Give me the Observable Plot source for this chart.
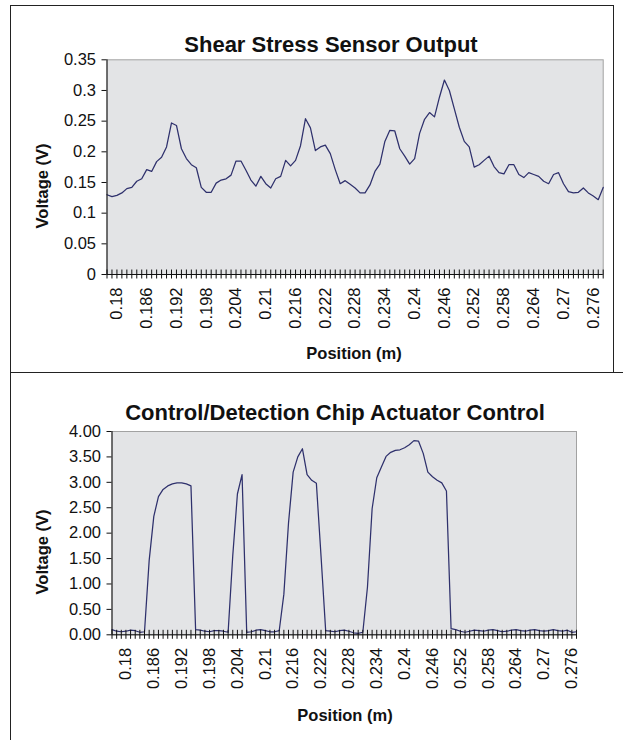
<!DOCTYPE html>
<html><head><meta charset="utf-8">
<script src="https://cdn.jsdelivr.net/npm/d3@7"></script>
<script src="https://cdn.jsdelivr.net/npm/@observablehq/plot@0.6"></script>
<style>
html,body{margin:0;padding:0;background:#fff;}
#page{position:relative;width:623px;height:740px;overflow:hidden;font-family:"Liberation Sans",Arial,sans-serif;}
.chart{position:absolute;left:0;}
.box{position:absolute;box-sizing:border-box;border:0 solid #222;pointer-events:none;}
</style></head><body><div id="page"></div>
<script>
// ---------- data ----------
const shearTitle = "Shear Stress Sensor Output";
const actuatorTitle = "Control/Detection Chip Actuator Control";
const xTitle = "Position (m)";
const yTitle = "Voltage (V)";

const shearPositions = [0.178,0.179,0.18,0.181,0.182,0.183,0.184,0.185,0.186,0.187,0.188,0.189,0.19,0.191,0.192,0.193,0.194,0.195,0.196,0.197,0.198,0.199,0.2,0.201,0.202,0.203,0.204,0.205,0.206,0.207,0.208,0.209,0.21,0.211,0.212,0.213,0.214,0.215,0.216,0.217,0.218,0.219,0.22,0.221,0.222,0.223,0.224,0.225,0.226,0.227,0.228,0.229,0.23,0.231,0.232,0.233,0.234,0.235,0.236,0.237,0.238,0.239,0.24,0.241,0.242,0.243,0.244,0.245,0.246,0.247,0.248,0.249,0.25,0.251,0.252,0.253,0.254,0.255,0.256,0.257,0.258,0.259,0.26,0.261,0.262,0.263,0.264,0.265,0.266,0.267,0.268,0.269,0.27,0.271,0.272,0.273,0.274,0.275,0.276,0.277,0.278];
const shearVoltage = [0.130,0.127,0.129,0.133,0.140,0.142,0.152,0.156,0.171,0.168,
  0.184,0.191,0.208,0.247,0.243,0.205,0.189,0.179,0.174,0.142,
  0.134,0.134,0.149,0.154,0.156,0.162,0.185,0.185,0.170,0.154,
  0.144,0.160,0.148,0.141,0.156,0.160,0.186,0.177,0.186,0.210,
  0.254,0.239,0.202,0.208,0.211,0.197,0.171,0.148,0.153,0.147,
  0.141,0.133,0.133,0.146,0.168,0.180,0.217,0.235,0.234,0.205,
  0.193,0.180,0.189,0.230,0.253,0.264,0.257,0.289,0.317,0.300,
  0.270,0.240,0.217,0.208,0.175,0.179,0.186,0.193,0.176,0.166,
  0.164,0.179,0.179,0.163,0.158,0.166,0.163,0.160,0.152,0.148,
  0.163,0.166,0.148,0.135,0.133,0.134,0.141,0.133,0.128,0.122,
  0.142];

const actuatorPositions = [0.177,0.178,0.179,0.18,0.181,0.182,0.183,0.184,0.185,0.186,0.187,0.188,0.189,0.19,0.191,0.192,0.193,0.194,0.195,0.196,0.197,0.198,0.199,0.2,0.201,0.202,0.203,0.204,0.205,0.206,0.207,0.208,0.209,0.21,0.211,0.212,0.213,0.214,0.215,0.216,0.217,0.218,0.219,0.22,0.221,0.222,0.223,0.224,0.225,0.226,0.227,0.228,0.229,0.23,0.231,0.232,0.233,0.234,0.235,0.236,0.237,0.238,0.239,0.24,0.241,0.242,0.243,0.244,0.245,0.246,0.247,0.248,0.249,0.25,0.251,0.252,0.253,0.254,0.255,0.256,0.257,0.258,0.259,0.26,0.261,0.262,0.263,0.264,0.265,0.266,0.267,0.268,0.269,0.27,0.271,0.272,0.273,0.274,0.275,0.276,0.277];
const actuatorVoltage = [0.10,0.07,0.06,0.07,0.09,0.08,0.05,0.06,
  1.46,2.33,2.72,2.86,2.93,2.97,2.99,2.99,2.97,2.93,
  0.10,0.09,0.07,0.06,0.08,0.08,0.07,0.05,
  1.56,2.77,3.15,
  0.05,0.06,0.09,0.10,0.08,0.06,0.06,0.08,
  0.80,2.20,3.20,3.50,3.66,3.15,3.04,2.98,1.55,
  0.08,0.07,0.06,0.08,0.09,0.07,0.04,0.03,0.05,
  0.94,2.48,3.09,3.30,3.51,3.59,3.63,3.64,3.68,3.74,3.82,3.81,3.57,3.20,3.11,3.04,2.99,2.83,
  0.12,0.10,0.07,0.05,0.07,0.09,0.08,0.07,0.09,0.10,0.08,0.06,0.07,0.09,0.10,0.08,0.07,0.09,0.10,0.08,0.07,0.08,0.10,0.08,0.07,0.09,0.05,0.06];

const xTickLabels = [0.18,0.186,0.192,0.198,0.204,0.21,0.216,0.222,0.228,0.234,0.24,0.246,0.252,0.258,0.264,0.27,0.276];
const shearYTicks = [0,0.05,0.1,0.15,0.2,0.25,0.3,0.35];
const actuatorYTicks = [0,0.5,1,1.5,2,2.5,3,3.5,4];

// ---------- drawing ----------
const FONT = "'Liberation Sans', Arial, sans-serif";
const LINE = "#2e306c";
const page = document.getElementById("page");

function chart(cfg) {
  const data = cfg.positions.map((p, i) => ({p, v: cfg.values[i]}));
  const svg = Plot.plot({
    width: 623, height: cfg.height,
    marginLeft: cfg.ml, marginRight: cfg.mr, marginTop: cfg.mt, marginBottom: cfg.mb,
    style: {fontFamily: FONT, fontSize: "16px", color: "#111", background: "transparent"},
    x: {domain: [cfg.positions[0], cfg.positions[cfg.positions.length - 1]], axis: null},
    y: {domain: cfg.yDomain, axis: null},
    marks: [
      Plot.frame({fill: "#e3e4e6", stroke: "#a2a2a2"}),
      Plot.line(data, {x: "p", y: "v", stroke: LINE, strokeWidth: 1.25}),
      Plot.ruleY([0], {stroke: "#111"}),
      Plot.ruleX([cfg.positions[0]], {stroke: "#111"}),
      Plot.ruleX(cfg.positions, {x: d => d, y1: 0, y2: 0, insetTop: 4.5, insetBottom: 4.5, stroke: "#111"}),
      Plot.axisY(cfg.yTicks, {tickSize: 5, tickPadding: 6, tickFormat: cfg.yFormat, fontSize: 16.5, label: null}),
      Plot.axisX(xTickLabels, {tickSize: 0, tickPadding: 13, tickRotate: -90, tickFormat: d => String(d), fontSize: 16.5, label: null})
    ]
  });
  const s = d3.select(svg);
  s.append("text").attr("x", cfg.titleX).attr("y", cfg.titleY).attr("text-anchor", "middle")
    .attr("font-size", 22).attr("font-weight", "bold").attr("fill", "#111").text(cfg.title);
  s.append("text").attr("transform", `translate(${cfg.ylabX},${cfg.ylabY}) rotate(-90)`).attr("text-anchor", "middle")
    .attr("font-size", 16.5).attr("font-weight", "bold").attr("fill", "#111").text(yTitle);
  s.append("text").attr("x", cfg.xlabX).attr("y", cfg.xlabY).attr("text-anchor", "middle")
    .attr("font-size", 16.5).attr("font-weight", "bold").attr("fill", "#111").text(xTitle);
  svg.classList.add("chart");
  svg.style.top = cfg.top + "px";
  return svg;
}

page.appendChild(chart({
  title: shearTitle, positions: shearPositions, values: shearVoltage,
  yDomain: [0, 0.35], yTicks: shearYTicks, yFormat: d => String(d),
  top: 0, height: 372, ml: 106.5, mr: 20.3, mt: 59.3, mb: 98,
  titleX: 331, titleY: 52, ylabX: 47.5, ylabY: 186, xlabX: 354, xlabY: 358.5
}));
page.appendChild(chart({
  title: actuatorTitle, positions: actuatorPositions, values: actuatorVoltage,
  yDomain: [0, 4], yTicks: actuatorYTicks, yFormat: d3.format(".2f"),
  top: 372, height: 368, ml: 111.5, mr: 47, mt: 59, mb: 105.7,
  titleX: 335, titleY: 48, ylabX: 47.5, ylabY: 180, xlabX: 345, xlabY: 348.5
}));

// panel borders
function box(l, t, w, h, sides) {
  const d = document.createElement("div");
  d.className = "box";
  Object.assign(d.style, {left: l + "px", top: t + "px", width: w + "px", height: h + "px"});
  sides.forEach(sd => d.style["border" + sd + "Width"] = "1px");
  page.appendChild(d);
}
box(10, 5, 604, 368, ["Left", "Top", "Right"]);
box(10, 372, 613, 368, ["Left", "Top"]);
</script>
</body></html>
